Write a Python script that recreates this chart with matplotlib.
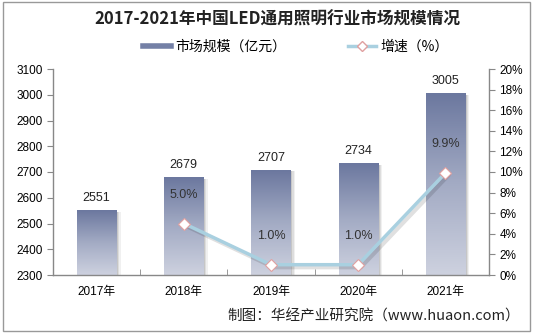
import numpy as np
import matplotlib
matplotlib.use('Agg')
import matplotlib.pyplot as plt
from matplotlib.colors import LinearSegmentedColormap
from matplotlib.lines import Line2D
from matplotlib.patches import Rectangle

plt.rcParams['font.family'] = ['Liberation Sans', 'Noto Sans CJK SC', 'DejaVu Sans']

years = ['2017年', '2018年', '2019年', '2020年', '2021年']
market = [2551, 2679, 2707, 2734, 3005]
growth_years = [1, 2, 3, 4]
growth = [5.0, 1.0, 1.0, 9.9]

fig = plt.figure(figsize=(5.33, 3.36), dpi=100)
ax = fig.add_axes([53/533, 1-275/336, 436/533, 206/336])
ax2 = ax.twinx()

x = np.arange(len(years))
bw = 0.45
cmap = LinearSegmentedColormap.from_list('bar', ['#6c789f', '#a3abc4', '#cdd1df'])
grad = np.linspace(0, 1, 100).reshape(-1, 1)

bars = ax.bar(x, [m - 2300 for m in market], bw, bottom=2300, color='none', zorder=2)
for b, v in zip(bars, market):
    x0 = b.get_x()
    # soft shadow on the right
    for k, al in ((0.05, 0.06), (0.035, 0.08), (0.02, 0.1)):
        ax.add_patch(Rectangle((x0 + k, 2300), bw, v - 2300 - 5, color='#000000',
                               alpha=al, zorder=1, lw=0))
    im = ax.imshow(grad, cmap=cmap, aspect='auto', extent=(x0, x0 + bw, 2300, v),
                   zorder=2)
    im.set_clip_path(b)
    ax.text(x0 + bw / 2, v + 25, str(v), ha='center', va='bottom', fontsize=9, color='#222222')

ax.set_xlim(-0.5, 4.5)
ax.set_ylim(2300, 3100)
ax.set_yticks(range(2300, 3101, 100))
ax.set_xticks(x)
ax.set_xticklabels(years)
ax.set_xticks(np.arange(-0.5, 5, 1), minor=True)
ax.tick_params(axis='x', which='major', length=0, pad=8, labelsize=8.5)
ax.tick_params(axis='x', which='minor', length=4, direction='in', color='#888888')
ax.tick_params(axis='y', length=4, direction='out', color='#888888', labelsize=8.5)

# line with shadow
ax2.plot([g + 0.03 for g in growth_years], [v - 0.25 for v in growth], color='#000000',
         alpha=0.12, lw=3, zorder=3)
ax2.plot(growth_years, growth, color='#a9d0e0', lw=2.5, marker='D', markersize=6,
         markerfacecolor='white', markeredgecolor='#e0a0a0', markeredgewidth=0.8, zorder=4)
for gx, gv in zip(growth_years, growth):
    ax2.text(gx, gv + 2.2, '%.1f%%' % gv, ha='center', va='bottom', fontsize=9, color='#333333')
ax2.set_ylim(0, 20)
ax2.set_yticks(range(0, 21, 2))
ax2.set_yticklabels(['%d%%' % t for t in range(0, 21, 2)])
ax2.tick_params(axis='y', length=4, direction='out', color='#888888', labelsize=8.5)

for a in (ax, ax2):
    a.set_zorder(1)
    for s in a.spines.values():
        s.set_visible(False)
ax2.set_zorder(2)
ax2.patch.set_visible(False)
ax.spines['left'].set_visible(True)
ax.spines['bottom'].set_visible(True)
ax2.spines['right'].set_visible(True)
for s in (ax.spines['left'], ax.spines['bottom'], ax2.spines['right']):
    s.set_color('#888888')
    s.set_linewidth(1)

fig.text(0.52, 1 - 20/336, '2017-2021年中国LED通用照明行业市场规模情况', ha='center', va='center',
         fontsize=12, fontweight='bold', family=['Noto Sans CJK SC', 'DejaVu Sans'], color='#222222')

handles = [Line2D([], [], color='#7480a6', lw=4),
           Line2D([], [], color='#a9d0e0', lw=2.5, marker='D', markersize=5,
                  markerfacecolor='white', markeredgecolor='#e0a0a0')]
fig.legend(handles, ['市场规模（亿元）', '增速（%）'], loc='center', bbox_to_anchor=(0.555, 1 - 47/336),
           ncol=2, frameon=False, handlelength=2.0, columnspacing=4.5, handletextpad=0.3,
           prop={'family': ['Noto Sans CJK SC', 'DejaVu Sans'], 'size': 10})

fig.text(0.975, 1 - 316/336, '制图：华经产业研究院（www.huaon.com）', ha='right', va='center',
         fontsize=10.5, family=['Noto Sans CJK SC', 'DejaVu Sans'], color='#222222')

fig.patches.append(Rectangle((3/533, 5/336), 527/533, 329/336, transform=fig.transFigure,
                             fill=False, edgecolor='#999999', lw=1))

fig.savefig('out.png', dpi=100, facecolor='white')
